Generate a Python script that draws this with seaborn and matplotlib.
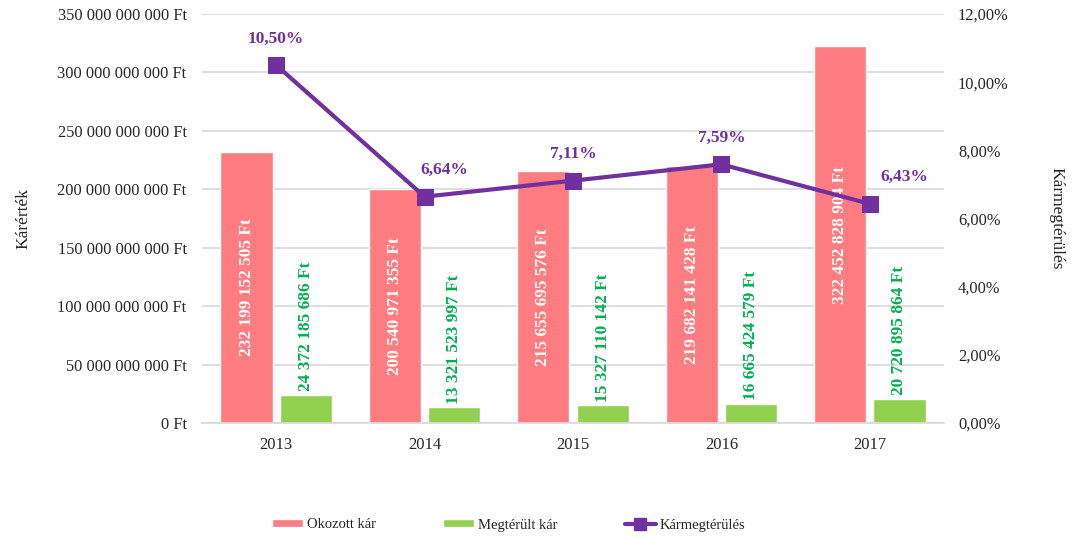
import numpy as np
import pandas as pd
import matplotlib
matplotlib.use("Agg")
import matplotlib.pyplot as plt
import seaborn as sns
from matplotlib.patches import Patch
from matplotlib.lines import Line2D

years = ["2013", "2014", "2015", "2016", "2017"]
okozott = [232199152505, 200540971355, 215655695576, 219682141428, 322452828904]
megterult = [24372185686, 13321523997, 15327110142, 16665424579, 20720895864]
aranyok = [10.50, 6.64, 7.11, 7.59, 6.43]
series_names = ["Okozott kár", "Megtérült kár"]

RED = "#FF7C80"
GREEN = "#92D050"
GREEN_TXT = "#00B050"
PURPLE = "#7030A0"


def ft(v):
    return f"{int(v):,}".replace(",", " ") + " Ft"


def pct(v, dec=2):
    return f"{v:.{dec}f}".replace(".", ",") + "%"


sns.set_theme(style="white")
plt.rcParams["font.family"] = ["Liberation Serif", "DejaVu Serif"]

df = pd.DataFrame({
    "ev": years * 2,
    "ertek": okozott + megterult,
    "sorozat": [series_names[0]] * 5 + [series_names[1]] * 5,
})

fig = plt.figure(figsize=(10.76, 5.39), dpi=100)
ax = fig.add_axes([202 / 1076, 1 - 423 / 539, 742 / 1076, 409 / 539])

sns.barplot(data=df, x="ev", y="ertek", hue="sorozat", palette=[RED, GREEN],
            width=0.8, gap=0.12, ax=ax, legend=False, saturation=1)

ax.set_ylim(0, 350e9)
ax.set_xlim(-0.5, 4.5)
ax.set_yticks(np.arange(0, 351e9, 50e9))
ax.set_yticklabels([ft(v) for v in np.arange(0, 351e9, 50e9)], fontsize=11.8)
ax.yaxis.grid(True, color="#D9D9D9", linewidth=1.2)
ax.set_axisbelow(True)
for s in ["top", "right", "left"]:
    ax.spines[s].set_visible(False)
ax.spines["bottom"].set_color("#D9D9D9")
ax.tick_params(axis="y", length=0, pad=11)
ax.tick_params(axis="x", length=0, pad=10, labelsize=12)
ax.set_xlabel("")
ax.set_ylabel("Kárérték", fontsize=12.5, labelpad=19)

# bar labels
red_bars = ax.containers[0]
green_bars = ax.containers[1]
for rect, v in zip(red_bars, okozott):
    ax.text(rect.get_x() + rect.get_width() / 2, v / 2, ft(v), rotation=90,
            ha="center", va="center", color="white", fontsize=12.4, fontweight="bold")
for rect, v in zip(green_bars, megterult):
    ax.text(rect.get_x() + rect.get_width() / 2, v + 3e9, ft(v), rotation=90,
            ha="center", va="bottom", color=GREEN_TXT, fontsize=12.4, fontweight="bold")

ax2 = ax.twinx()
sns.lineplot(x=np.arange(len(years)), y=aranyok, ax=ax2, color=PURPLE, linewidth=3,
             marker="s", markersize=11, markeredgecolor=PURPLE)
ax2.set_ylim(0, 12)
ax2.set_yticks(np.arange(0, 12.1, 2))
ax2.set_yticklabels([pct(v) for v in np.arange(0, 12.1, 2)], fontsize=11.8)
ax2.tick_params(axis="y", length=0, pad=10)
for s in ax2.spines.values():
    s.set_visible(False)
ax2.grid(False)
ax2.set_ylabel("Kármegtérülés", fontsize=12.5, rotation=270, labelpad=40)

dx = [0, 0.13, 0, 0, 0.23]
for i, v in enumerate(aranyok):
    ax2.text(i + dx[i], v + 0.55, pct(v), ha="center", va="bottom",
             color=PURPLE, fontsize=12.5, fontweight="bold")

handles = [
    Patch(facecolor=RED, label="Okozott kár"),
    Patch(facecolor=GREEN, label="Megtérült kár"),
    Line2D([0], [0], color=PURPLE, linewidth=3, marker="s", markersize=9, label="Kármegtérülés"),
]
fig.legend(handles=handles, loc="center", bbox_to_anchor=(0.473, 1 - 525 / 539), ncol=3,
           frameon=False, fontsize=10.5, columnspacing=4.6, handlelength=2.1, handleheight=0.5,
           handletextpad=0.3)

fig.savefig("out.png", dpi=100)
